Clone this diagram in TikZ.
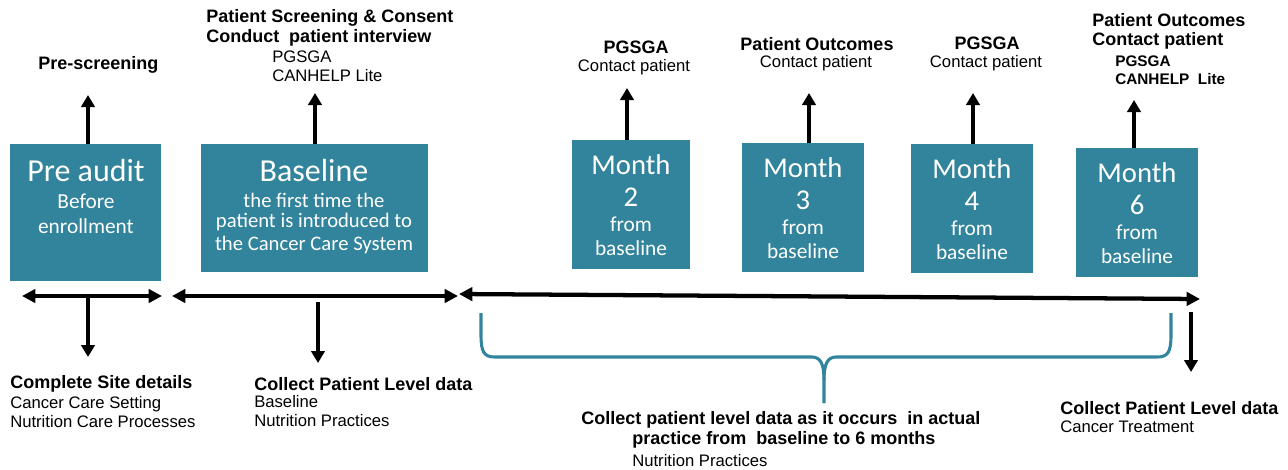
\documentclass[tikz,border=0pt]{standalone}
\usepackage{fontspec}
\setmainfont{Liberation Sans}
\newfontfamily\boxfont{Carlito}
\usetikzlibrary{arrows.meta,fit}
\definecolor{tealbox}{RGB}{49,132,155}
\begin{document}
\begin{tikzpicture}[x=0.75pt,y=-0.75pt,
  box/.style={fill=tealbox,draw=none,inner sep=0pt},
  big/.style={text=white,inner sep=0pt,font=\boxfont\fontsize{24pt}{26pt}\selectfont},
  mid/.style={text=white,inner sep=0pt,font=\boxfont\fontsize{16pt}{18pt}\selectfont},
  midb/.style={text=white,inner sep=0pt,font=\boxfont\fontsize{15.5pt}{18pt}\selectfont},
  mon/.style={text=white,inner sep=0pt,font=\boxfont\fontsize{21.5pt}{23pt}\selectfont},
  bt/.style={inner sep=0pt,font=\bfseries\fontsize{13.5pt}{15pt}\selectfont},
  bts/.style={inner sep=0pt,font=\bfseries\fontsize{11.5pt}{13pt}\selectfont},
  rt/.style={inner sep=0pt,font=\fontsize{12.5pt}{14pt}\selectfont},
  uparrow/.style={line width=3.4pt,-{Triangle[length=9pt,width=10pt]}},
  tline/.style={line width=3.2pt,{Triangle[length=10pt,width=10pt]}-{Triangle[length=10pt,width=10pt]}},
  bracepath/.style={draw=tealbox,line width=2.3pt,line join=round}]
\useasboundingbox (0,0) rectangle (1288,469);

% boxes
\node[box,fit={(10,144)(161,281)}] (pre) {};
\node[box,fit={(201,144)(428,272)}] (base) {};
\node[box,fit={(572,140)(690,269)}] (m2) {};
\node[box,fit={(742,143)(864,272)}] (m3) {};
\node[box,fit={(911,144)(1033,273)}] (m4) {};
\node[box,fit={(1076,148)(1198,277)}] (m6) {};

% box texts
\node[big] (preT) at (86,170) {Pre audit};
\node[mid] (preT2) at (86,201) {Before};
\node[mid] (preT3) at (86,226) {enrollment};
\node[big] (baseT) at (314,170) {Baseline};
\node[midb] (baseT2) at (314,200) {the first time the};
\node[midb] (baseT3) at (314,222) {patient is introduced to};
\node[midb] (baseT4) at (314,245) {the Cancer Care System};
\foreach \n/\cx/\ty/\num in {m2/631/140/2, m3/803/143/3, m4/972/144/4, m6/1137/148/6}{
  \node[mon] (\n a) at (\cx,\ty+25) {Month};
  \node[mon] (\n b) at (\cx,\ty+57) {\num};
  \node[mid] (\n c) at (\cx,\ty+84) {from};
  \node[mid] (\n d) at (\cx,\ty+108) {baseline};
}

% top texts
\node[bt,anchor=west] (prescr) at (38,65) {Pre-screening};
\node[bt,anchor=west] (psc) at (206,18) {Patient Screening \& Consent};
\node[bt,anchor=west] (cpi) at (206,38) {Conduct\ \ patient interview};
\node[rt,anchor=west] (pg1) at (272,57) {PGSGA};
\node[rt,anchor=west] (ch1) at (272,76) {CANHELP Lite};
\node[bt] (pg2) at (636,47) {PGSGA};
\node[rt] (cp2) at (634,67) {Contact patient};
\node[bt] (po3) at (817,44) {Patient Outcomes};
\node[rt] (cp3) at (816,63) {Contact patient};
\node[bt] (pg4) at (987,43) {PGSGA};
\node[rt] (cp4) at (986,63) {Contact patient};
\node[bt,anchor=west] (po6) at (1092,20) {Patient Outcomes};
\node[bt,anchor=west] (cp6) at (1092,41) {Contact patient};
\node[bts,anchor=west] (pg6) at (1115,61) {PGSGA};
\node[bts,anchor=west] (ch6) at (1115,79) {CANHELP\ \ Lite};

% up arrows
\coordinate (u1) at (88,95);
\coordinate (u2) at (315,93);
\coordinate (u3) at (627,88);
\coordinate (u4) at (809,93);
\coordinate (u5) at (973,93);
\coordinate (u6) at (1134,100);
\draw[uparrow] (pre.north -| u1) -- (u1);
\draw[uparrow] (base.north -| u2) -- (u2);
\draw[uparrow] (m2.north -| u3) -- (u3);
\draw[uparrow] (m3.north -| u4) -- (u4);
\draw[uparrow] (m4.north -| u5) -- (u5);
\draw[uparrow] (m6.north -| u6) -- (u6);

% timeline
\coordinate (t1a) at (22,296);
\coordinate (t1b) at (162,296);
\coordinate (t2a) at (172,296);
\coordinate (t2b) at (458,296);
\coordinate (t3a) at (459,294);
\coordinate (t3b) at (1200,299);
\draw[tline] (t1a) -- (t1b);
\draw[tline] (t2a) -- (t2b);
\draw[tline] (t3a) -- (t3b);

% down arrows
\coordinate (d1a) at (88,298);
\coordinate (d1b) at (88,357);
\coordinate (d2a) at (318,302);
\coordinate (d2b) at (318,363);
\coordinate (d3a) at (1191,312);
\coordinate (d3b) at (1191,372);
\draw[uparrow] (d1a) -- (d1b);
\draw[uparrow] (d2a) -- (d2b);
\draw[uparrow] (d3a) -- (d3b);

% brace
\draw[bracepath] (481,313) -- (481,335) .. controls (481,352) and (484,357) .. (495,357)
  -- (812,357) .. controls (821,357) and (824,365) .. (824,380) -- (824,403);
\draw[bracepath] (1171,313) -- (1171,335) .. controls (1171,352) and (1168,357) .. (1157,357)
  -- (836,357) .. controls (827,357) and (824,365) .. (824,380);

% bottom texts
\node[bt,anchor=west] (csd) at (10,384) {Complete Site details};
\node[rt,anchor=west] (ccs) at (10,404) {Cancer Care Setting};
\node[rt,anchor=west] (ncp) at (10,422) {Nutrition Care Processes};
\node[bt,anchor=west] (cpl1) at (254,384) {Collect Patient Level data};
\node[rt,anchor=west] (bl1) at (254,402) {Baseline};
\node[rt,anchor=west] (np1) at (254,421) {Nutrition Practices};
\node[bt,anchor=west] (cpl2) at (581,420) {Collect patient level data as it occurs\ \ in actual};
\node[bt,anchor=west] (cpl2b) at (632,440) {practice from\ \ baseline to 6 months};
\node[rt,anchor=west] (np2) at (632,461) {Nutrition Practices};
\node[bt,anchor=west] (cpl3) at (1060,408) {Collect Patient Level data};
\node[rt,anchor=west] (ct3) at (1060,427) {Cancer Treatment};
\end{tikzpicture}
\end{document}
